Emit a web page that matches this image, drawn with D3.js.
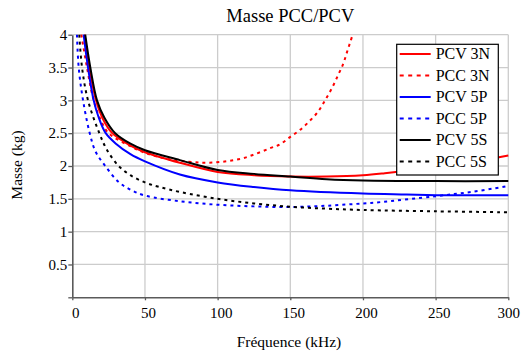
<!DOCTYPE html>
<html>
<head>
<meta charset="utf-8">
<script src="https://cdn.jsdelivr.net/npm/d3@7"></script>
<style>
  body { margin: 0; background: #fff; }
  svg text { font-family: "Liberation Serif", "DejaVu Serif", "Times New Roman", serif !important; fill: #000; }
</style>
</head>
<body>
<div id="chart"></div>
<script>
// Values: [frequency kHz, mass kg]
const pcv3N = [[8.5, 4.0], [11.7, 3.5], [16.3, 3.0], [21, 2.72], [27.5, 2.5], [40, 2.31], [50, 2.21], [74, 2.05],
  [100, 1.91], [125, 1.86], [150, 1.84], [175, 1.84], [200, 1.86], [215, 1.89], [250, 1.98], [275, 2.06], [300, 2.16]];
const pcc3N = [[6.2, 4.0], [10.1, 3.5], [14.7, 3.0], [19, 2.73], [25, 2.5], [41, 2.29], [50, 2.2], [65, 2.11], [80, 2.065],
  [90, 2.05], [99.3, 2.056], [108.5, 2.08], [117.7, 2.12], [126.9, 2.19], [136, 2.27], [142.9, 2.33], [149.8, 2.44],
  [156.7, 2.55], [163.5, 2.69], [169.2, 2.83], [173.9, 3.0], [178.5, 3.18], [183, 3.39], [186.5, 3.56], [188.8, 3.72],
  [191, 3.87], [192.9, 4.0]];
const pcv5P = [[7.8, 4.0], [10.8, 3.5], [14.7, 3.0], [18, 2.75], [23, 2.5], [30, 2.34], [40, 2.18], [50, 2.07], [74, 1.87], [100, 1.75],
  [125, 1.68], [150, 1.63], [200, 1.58], [230, 1.565], [250, 1.555], [300, 1.555]];
const pcc5P = [[3.2, 4.0], [4.4, 3.5], [7.4, 3.0], [12, 2.5], [16, 2.22], [22.7, 2.0], [31.7, 1.76], [40, 1.64], [50, 1.55],
  [75, 1.46], [100, 1.41], [125, 1.385], [150, 1.375], [175, 1.395], [200, 1.43], [212, 1.45], [250, 1.54],
  [276, 1.61], [300, 1.695]];
const pcv5S = [[8.9, 4.0], [12.4, 3.5], [17, 3.0], [22, 2.74], [29.5, 2.5], [40, 2.34], [50, 2.24], [74, 2.09], [100, 1.94],
  [125, 1.88], [150, 1.84], [175, 1.8], [200, 1.78], [250, 1.77], [300, 1.77]];
const pcc5S = [[4.8, 4.0], [6.7, 3.5], [10.8, 3.0], [18.6, 2.5], [24, 2.24], [31.9, 2.0], [40, 1.86], [50, 1.75], [60, 1.68],
  [75, 1.6], [100, 1.5], [125, 1.43], [150, 1.38], [175, 1.35], [200, 1.33], [250, 1.31], [300, 1.295]];

const seriesNames = ["PCV 3N", "PCC 3N", "PCV 5P", "PCC 5P", "PCV 5S", "PCC 5S"];
const seriesData = [pcv3N, pcc3N, pcv5P, pcc5P, pcv5S, pcc5S];
const seriesColors = ["#ff0000", "#ff0000", "#0000ff", "#0000ff", "#000000", "#000000"];
const seriesDashed = [false, true, false, true, false, true];

const xTicks = [0, 50, 100, 150, 200, 250, 300];
const yTicks = [0.5, 1, 1.5, 2, 2.5, 3, 3.5, 4];

const W = 521, H = 356;
const margin = { top: 34.7, right: 12.7, bottom: 58.7, left: 72.3 };
const width = W - margin.left - margin.right;
const height = H - margin.top - margin.bottom;
const serif = '"Liberation Serif", "DejaVu Serif", serif';

const svg = d3.select("#chart").append("svg")
    .attr("width", W)
    .attr("height", H);

const g = svg.append("g")
    .attr("transform", `translate(${margin.left},${margin.top})`);

const x = d3.scaleLinear().domain([0, 300]).range([0, width]);
const y = d3.scaleLinear().domain([0, 4]).range([height, 0]);

// grid
g.append("g").selectAll("line")
    .data(xTicks.filter(d => d > 0))
    .join("line")
    .attr("x1", d => x(d)).attr("x2", d => x(d))
    .attr("y1", 0).attr("y2", height)
    .attr("stroke", "#cccccc").attr("stroke-width", 1.3);

g.append("g").selectAll("line")
    .data(yTicks)
    .join("line")
    .attr("x1", 0).attr("x2", width)
    .attr("y1", d => y(d)).attr("y2", d => y(d))
    .attr("stroke", "#cccccc").attr("stroke-width", 1.3);

// axes
const xAxis = g.append("g")
    .attr("transform", `translate(0,${height})`)
    .call(d3.axisBottom(x).tickValues(xTicks).tickSize(3).tickPadding(7).tickSizeOuter(0));
xAxis.selectAll("text").attr("dx", d => d === 300 ? 0 : 3);

const yAxis = g.append("g")
    .call(d3.axisLeft(y).tickValues([0].concat(yTicks)).tickSize(4).tickPadding(1).tickSizeOuter(0)
      .tickFormat(d => d === 0 ? "" : d));

[xAxis, yAxis].forEach(a => {
  a.attr("font-family", serif).attr("font-size", 15);
  a.select(".domain").attr("stroke", "#5a5a5a").attr("stroke-width", 1.6);
  a.selectAll(".tick line").attr("stroke", "#5a5a5a").attr("stroke-width", 1.3);
  a.selectAll("text").attr("fill", "#000");
});

// curves
svg.append("clipPath").attr("id", "plot-clip")
  .append("rect").attr("x", 0).attr("y", -1).attr("width", width + 1).attr("height", height + 1);

const line = d3.line()
    .x(d => x(d[0]))
    .y(d => y(d[1]))
    .curve(d3.curveCatmullRom.alpha(0.5));

const curves = g.append("g").attr("clip-path", "url(#plot-clip)");
seriesData.forEach((data, i) => {
  curves.append("path")
    .datum(data)
    .attr("d", line)
    .attr("fill", "none")
    .attr("stroke", seriesColors[i])
    .attr("stroke-width", 2)
    .attr("stroke-dasharray", seriesDashed[i] ? "3,4" : null);
});

// legend
const legend = svg.append("g").attr("transform", "translate(396.7,44.3)");
legend.append("rect")
    .attr("width", 101.6).attr("height", 130.7)
    .attr("fill", "#fff").attr("stroke", "#000").attr("stroke-width", 1.2);

seriesNames.forEach((name, i) => {
  const cy = 9.7 + i * 21.5;
  legend.append("line")
    .attr("x1", 3).attr("x2", 34)
    .attr("y1", cy).attr("y2", cy)
    .attr("stroke", seriesColors[i])
    .attr("stroke-width", 2)
    .attr("stroke-dasharray", seriesDashed[i] ? "4,4.5" : null);
  legend.append("text")
    .attr("x", 39).attr("y", cy + 5.4)
    .attr("font-family", serif)
    .attr("font-size", 16)
    .text(name);
});

// title and axis labels
svg.append("text")
    .attr("x", margin.left + width / 2)
    .attr("y", 21.7)
    .attr("text-anchor", "middle")
    .attr("font-family", serif)
    .attr("font-size", 18.5)
    .text("Masse PCC/PCV");

svg.append("text")
    .attr("x", 289)
    .attr("y", 347)
    .attr("text-anchor", "middle")
    .attr("font-family", serif)
    .attr("font-size", 15.5)
    .text("Fréquence (kHz)");

svg.append("text")
    .attr("transform", "translate(22,165) rotate(-90)")
    .attr("text-anchor", "middle")
    .attr("font-family", serif)
    .attr("font-size", 15.5)
    .text("Masse (kg)");
</script>
</body>
</html>
